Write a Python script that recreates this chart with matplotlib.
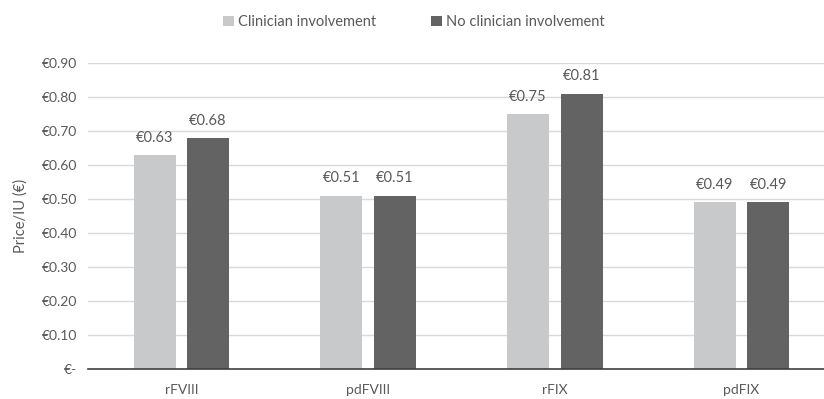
import matplotlib
matplotlib.use("Agg")
import matplotlib.pyplot as plt
import numpy as np
from matplotlib.patches import Patch

categories = ["rFVIII", "pdFVIII", "rFIX", "pdFIX"]
clinician = [0.63, 0.51, 0.75, 0.49]
no_clinician = [0.68, 0.51, 0.81, 0.49]
series_names = ["Clinician involvement", "No clinician involvement"]
yticks = [0.0, 0.1, 0.2, 0.3, 0.4, 0.5, 0.6, 0.7, 0.8, 0.9]

plt.rcParams["font.family"] = ["Lato", "DejaVu Sans"]
text_color = "#595959"
light = "#C8C9CA"
dark = "#636364"

fig = plt.figure(figsize=(8.24, 3.99), dpi=100)
ax = fig.add_axes([88 / 824, 30 / 399, 747 / 824, 306 / 399])

x = np.arange(len(categories))
w = 0.225
off = 0.143
b1 = ax.bar(x - off, clinician, w, color=light, zorder=3)
b2 = ax.bar(x + off, no_clinician, w, color=dark, zorder=3)

for bars, vals in ((b1, clinician), (b2, no_clinician)):
    for rect, v in zip(bars, vals):
        ax.text(rect.get_x() + rect.get_width() / 2, v + 0.03, f"€{v:.2f}",
                ha="center", va="bottom", fontsize=10.5, color=text_color)

ax.set_xlim(-0.5, len(categories) - 0.5)
ax.set_ylim(0, 0.9)
ax.set_yticks(yticks)
ax.set_yticklabels(["€-" if t == 0 else f"€{t:.2f}" for t in yticks])
ax.set_xticks(x)
ax.set_xticklabels(categories)
ax.tick_params(axis="both", length=0, labelsize=10, colors=text_color)
ax.tick_params(axis="x", pad=11)
ax.tick_params(axis="y", pad=8)
ax.grid(axis="y", color="#D9D9D9", linewidth=1, zorder=0)
for s in ["top", "right", "left"]:
    ax.spines[s].set_visible(False)
ax.spines["bottom"].set_color("#404040")
ax.spines["bottom"].set_linewidth(1.2)
ax.spines["bottom"].set_zorder(4)

ax.set_ylabel("Price/IU (€)", fontsize=10.5, color=text_color, labelpad=10)

handles = [Patch(facecolor=light), Patch(facecolor=dark)]
fig.legend(handles, series_names, loc="center", bbox_to_anchor=(414 / 824, 1 - 22 / 399),
           ncol=2, frameon=False, fontsize=10.5, labelcolor=text_color,
           handlelength=0.7, handleheight=0.7, handletextpad=0.3, columnspacing=3.8)

fig.savefig("out.png", dpi=100)
